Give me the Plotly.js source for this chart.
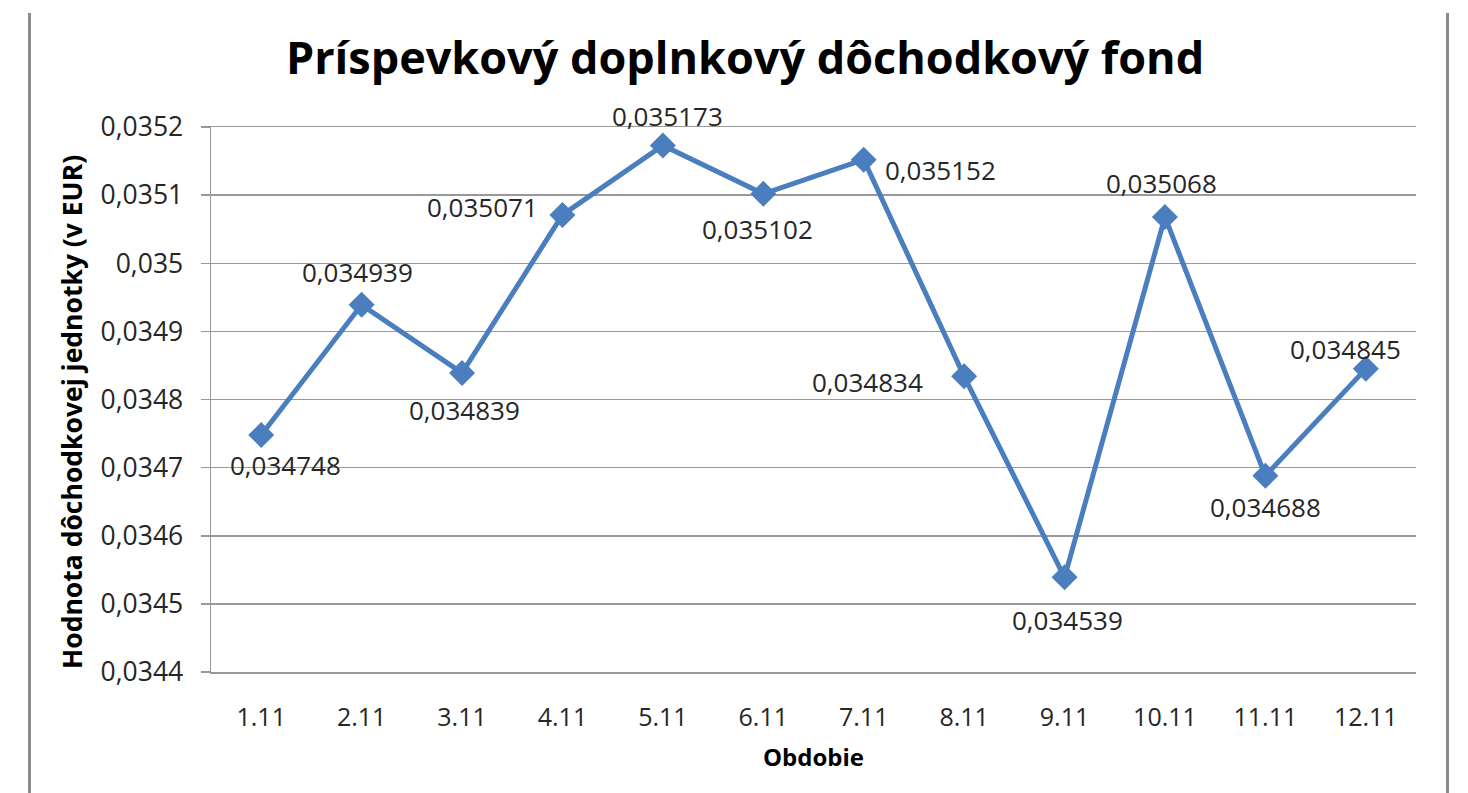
<!DOCTYPE html>
<html>
<head>
<meta charset="utf-8">
<script src="https://cdn.plot.ly/plotly-3.0.1.min.js"></script>
<style>
html,body{margin:0;padding:0;background:#fff;}
#chart{width:1468px;height:793px;position:relative;}
.edge{position:absolute;top:13px;bottom:0;width:3px;background:#8c8c8c;z-index:5;}
</style>
</head>
<body>
<div id="chart"></div>
<div class="edge" style="left:28px;top:13px;height:780px;"></div>
<div class="edge" style="left:1446px;top:13px;height:780px;"></div>
<script>
const categories = ['1.11','2.11','3.11','4.11','5.11','6.11','7.11','8.11','9.11','10.11','11.11','12.11'];
const values = [0.034748,0.034939,0.034839,0.035071,0.035173,0.035102,0.035152,0.034834,0.034539,0.035068,0.034688,0.034845];
const yTickVals = [0.0344,0.0345,0.0346,0.0347,0.0348,0.0349,0.035,0.0351,0.0352];
const yTickText = ['0,0344','0,0345','0,0346','0,0347','0,0348','0,0349','0,035','0,0351','0,0352'];
const chartTitle = 'Príspevkový doplnkový dôchodkový fond';
const xTitle = 'Obdobie';
const yTitle = 'Hodnota dôchodkovej jednotky (v EUR)';

// label placement offsets (pixels), style only
const labelDx = [24,-4,2,-80,5,-6,77,-97,3,-3,0,-20];
const labelDy = [30,-33,37,-8,-29,35,10,6,43,-34,31,-20];

const FONT = '"Open Sans", "Noto Sans", sans-serif';
const blue = '#4A7EBF';
const grid = '#999999';

const annotations = values.map((v,i)=>({
  x: i, y: v, xref:'x', yref:'y',
  text: v.toFixed(6).replace('.', ','),
  showarrow:false, xshift: labelDx[i], yshift: -labelDy[i],
  font:{family:FONT,size:26,color:'#262626'},
  xanchor:'center', yanchor:'middle'
}));
annotations.push({
  text: yTitle, xref:'paper', yref:'paper',
  x: (72-211)/1205, y: (672-412)/545, xanchor:'center', yanchor:'middle',
  textangle:-90, showarrow:false,
  font:{family:FONT,size:26.5,color:'#000',weight:700}
});

const trace = {
  x: categories, y: values, type:'scatter', mode:'lines+markers',
  line:{color:blue,width:5},
  marker:{symbol:'diamond',size:20,color:blue,line:{color:blue,width:0}},
  hoverinfo:'skip', cliponaxis:false
};

const layout = {
  width:1468, height:793,
  margin:{l:211,r:52,t:127,b:121},
  paper_bgcolor:'#fff', plot_bgcolor:'#fff',
  showlegend:false,
  title:{text:chartTitle, x:0.5075, xanchor:'center', xref:'container', y:0.926, yref:'container', yanchor:'middle',
    font:{family:FONT,size:45,color:'#000',weight:700}},
  xaxis:{type:'category', range:[-0.5,11.5], showgrid:false, zeroline:false,
    showline:true, mirror:true, linecolor:grid, linewidth:1.5,
    ticks:'', tickfont:{family:FONT,size:25,color:'#262626'},
    ticklabelstandoff:22,
    title:{text:xTitle, font:{family:FONT,size:24,color:'#000',weight:700}, standoff:17}},
  yaxis:{range:[0.0344,0.0352], tickmode:'array', tickvals:yTickVals, ticktext:yTickText,
    showgrid:true, gridcolor:grid, gridwidth:1.5, zeroline:false,
    showline:true, linecolor:grid, linewidth:1.5,
    ticks:'outside', ticklen:9, tickcolor:grid, tickwidth:1.5,
    tickfont:{family:FONT,size:26.5,color:'#262626'}, ticklabelstandoff:12},
  annotations: annotations
};

Plotly.newPlot('chart',[trace],layout,{displayModeBar:false,staticPlot:true});
</script>
</body>
</html>
